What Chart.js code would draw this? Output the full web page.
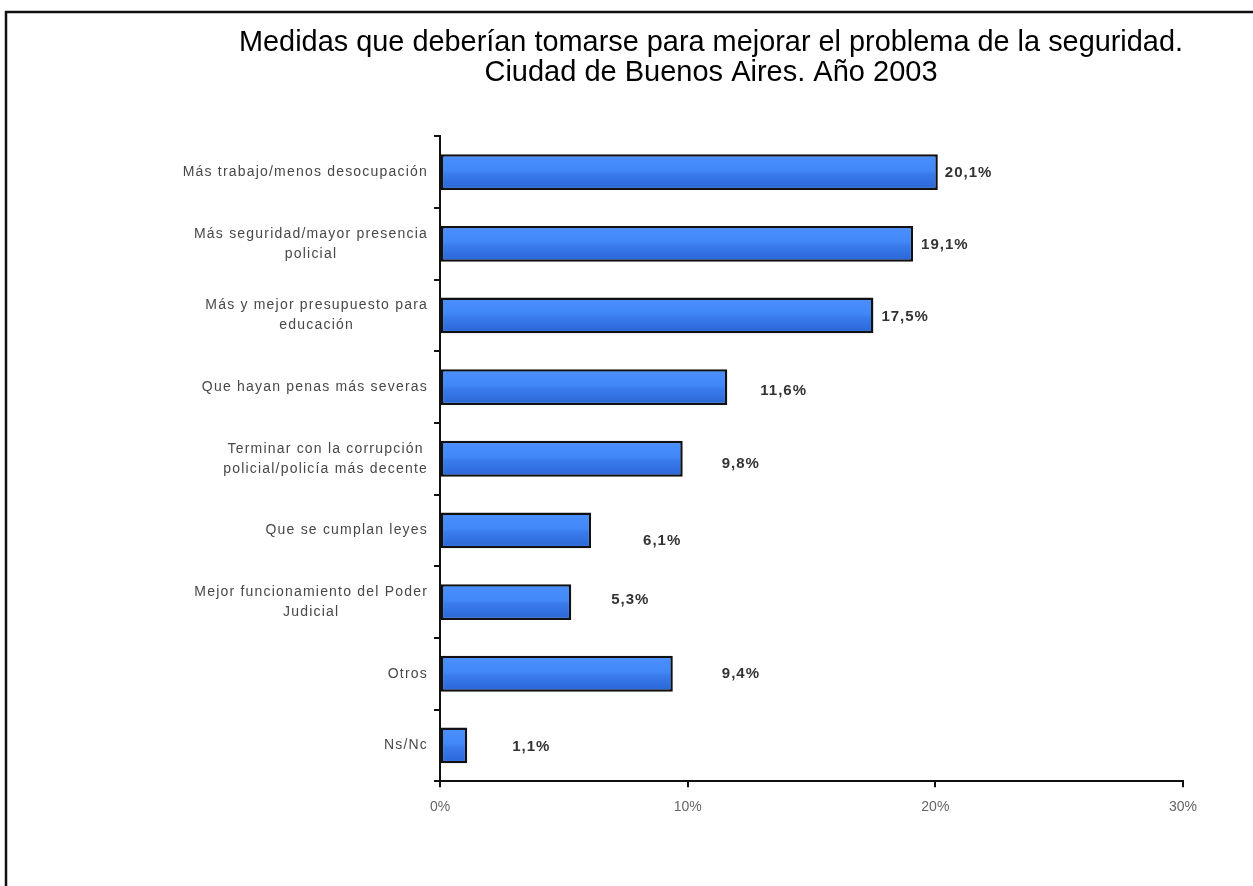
<!DOCTYPE html>
<html><head><meta charset="utf-8">
<script src="https://cdn.jsdelivr.net/npm/chart.js@4/dist/chart.umd.min.js"></script>
<style>html,body{margin:0;padding:0;background:#fff;} #wrap{position:relative;width:1253px;height:886px;}</style>
</head><body><div id="wrap"><canvas id="c" width="1253" height="886"></canvas></div>
<script>
const titleLines = ["Medidas que deberían tomarse para mejorar el problema de la seguridad.", "Ciudad de Buenos Aires. Año 2003"];
const categories = [
  ["Más trabajo/menos desocupación"],
  ["Más seguridad/mayor presencia", "policial"],
  ["Más y mejor presupuesto para", "educación"],
  ["Que hayan penas más severas"],
  ["Terminar con la corrupción", "policial/policía más decente"],
  ["Que se cumplan leyes"],
  ["Mejor funcionamiento del Poder", "Judicial"],
  ["Otros"],
  ["Ns/Nc"]
];
const values = [20.1, 19.1, 17.5, 11.6, 9.8, 6.1, 5.3, 9.4, 1.1];
const xTicks = [0, 10, 20, 30];

const fmt = v => v.toFixed(1).replace('.', ',') + '%';

const framePlugin = {
  id: 'frame',
  beforeDraw(chart) {
    const c = chart.ctx;
    c.save();
    c.fillStyle = '#fff';
    c.fillRect(0, 0, chart.width, chart.height);
    c.strokeStyle = '#111';
    c.lineWidth = 2.5;
    c.beginPath();
    c.moveTo(6, chart.height);
    c.lineTo(6, 12);
    c.lineTo(chart.width, 12);
    c.stroke();
    c.restore();
  }
};

const yLabelPlugin = {
  id: 'yLabels',
  afterDraw(chart, args, opts) {
    const s = chart.scales.y;
    const c = chart.ctx;
    c.save();
    c.font = opts.font;
    c.fillStyle = opts.color;
    c.letterSpacing = opts.spacing;
    c.textAlign = 'center';
    c.textBaseline = 'middle';
    s.ticks.forEach((t, i) => {
      const lines = categories[i];
      const w = Math.max(...lines.map(l => c.measureText(l).width));
      const cx = s.right - opts.gap - w / 2;
      const yc = s.getPixelForTick(i);
      const lh = opts.lineHeight;
      lines.forEach((l, k) => {
        c.fillText(l, cx, yc + (k - (lines.length - 1) / 2) * lh);
      });
    });
    c.restore();
  }
};

const barDecor = {
  id: 'barDecor',
  afterDatasetsDraw(chart, args, opts) {
    const c = chart.ctx;
    const meta = chart.getDatasetMeta(0);
    const bw = opts.inset;
    c.save();
    meta.data.forEach((el, i) => {
      const left = Math.min(el.base, el.x) + bw;
      const right = Math.max(el.base, el.x) - bw;
      const top = el.y - el.height / 2 + bw;
      const bot = el.y + el.height / 2 - bw;
      const g = c.createLinearGradient(0, top, 0, bot);
      g.addColorStop(0, '#4a8ffc');
      g.addColorStop(0.45, '#4287f7');
      g.addColorStop(0.55, '#3a7cec');
      g.addColorStop(1, '#2c68d8');
      c.fillStyle = g;
      c.fillRect(left, top, right - left, bot - top);
    });
    c.font = opts.font;
    c.fillStyle = opts.color;
    c.letterSpacing = opts.spacing;
    c.textAlign = 'left';
    c.textBaseline = 'middle';
    meta.data.forEach((el, i) => {
      const n = opts.nudges[i];
      c.fillText(fmt(values[i]), el.x + n[0], el.y + n[1]);
    });
    c.restore();
  }
};

new Chart(document.getElementById('c'), {
  type: 'bar',
  data: {
    labels: categories,
    datasets: [{
      data: values,
      backgroundColor: '#3f84f5',
      borderColor: '#111',
      borderWidth: 2.5,
      borderSkipped: false,
      barPercentage: 0.5,
      categoryPercentage: 1
    }]
  },
  plugins: [framePlugin, yLabelPlugin, barDecor],
  options: {
    indexAxis: 'y',
    responsive: false,
    animation: false,
    devicePixelRatio: 1,
    layout: { padding: { left: 239, right: 70, top: 0, bottom: 58 } },
    plugins: {
      legend: { display: false },
      tooltip: { enabled: false },
      title: {
        display: true,
        text: titleLines,
        color: '#000',
        font: { family: 'Liberation Sans, Arial, sans-serif', size: 29, weight: 'normal', lineHeight: 1.04 },
        padding: { top: 28, bottom: 48 }
      },
      yLabels: { font: '14px "Liberation Sans", Arial, sans-serif', color: '#484848', spacing: '1.2px', gap: 12, lineHeight: 20 },
      barDecor: {
        inset: 2.5,
        font: 'bold 15px "Liberation Sans", Arial, sans-serif', color: '#333', spacing: '1px',
        nudges: [[7, 1], [8, 1], [8, 1], [33, 4], [39, 5], [52, 10], [40, -2], [49, 0], [45, 1]]
      }
    },
    scales: {
      x: {
        min: xTicks[0],
        max: xTicks[xTicks.length - 1],
        afterBuildTicks: s => { s.ticks = xTicks.map(v => ({ value: v })); },
        grid: { drawOnChartArea: false, drawTicks: true, tickLength: 6, color: '#111', lineWidth: 2 },
        border: { display: true, color: '#111', width: 2 },
        ticks: {
          callback: v => v + '%',
          color: '#666',
          padding: 12,
          font: { family: 'Liberation Sans, Arial, sans-serif', size: 14 }
        }
      },
      y: {
        afterFit: s => { s.width = 440 - 239; },
        grid: { offset: true, drawOnChartArea: false, drawTicks: true, tickLength: 6, color: '#111', lineWidth: 2 },
        border: { display: true, color: '#111', width: 2 },
        ticks: { display: false }
      }
    }
  }
});
</script>
</body></html>
